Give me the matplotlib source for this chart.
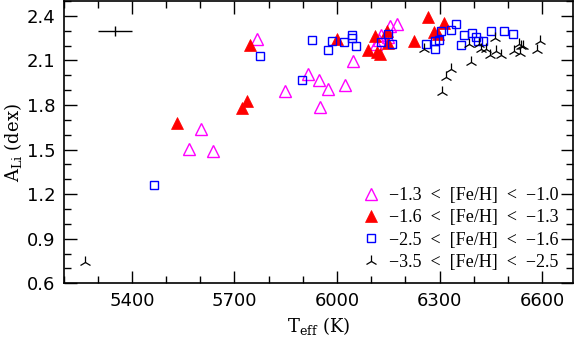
import matplotlib
matplotlib.use("Agg")
import matplotlib.pyplot as plt
from matplotlib.ticker import MultipleLocator

# ---- data ----
teff_mag = [5765, 5915, 5946, 5974, 6022, 5848, 5951, 5602, 5568, 5638,
            6048, 6115, 6130, 6123, 6155, 6177, 6148]
ali_mag = [2.244, 2.006, 1.966, 1.905, 1.936, 1.895, 1.785, 1.635, 1.505, 1.489,
           2.095, 2.21, 2.272, 2.237, 2.333, 2.344, 2.26]

teff_red = [5531, 5722, 5738, 5745, 5999, 6091, 6110, 6118, 6126, 6145,
            6150, 6225, 6266, 6284, 6297, 6313]
ali_red = [1.677, 1.777, 1.826, 2.203, 2.244, 2.172, 2.266, 2.154, 2.143, 2.30,
           2.214, 2.232, 2.393, 2.293, 2.275, 2.35]

teff_blue = [5465, 5776, 5897, 5927, 5973, 5985, 6021, 6045, 6043, 6055,
             6130, 6150, 6160, 6260, 6286, 6288, 6299, 6303, 6334, 6347,
             6362, 6372, 6394, 6406, 6413, 6428, 6452, 6489, 6515]
ali_blue = [1.264, 2.13, 1.97, 2.24, 2.17, 2.23, 2.221, 2.27, 2.248, 2.20,
            2.226, 2.277, 2.21, 2.21, 2.228, 2.18, 2.237, 2.30, 2.306, 2.348,
            2.203, 2.268, 2.288, 2.261, 2.232, 2.228, 2.30, 2.301, 2.279]

teff_blk = [5264, 6254, 6333, 6318, 6306, 6391, 6386, 6415, 6420, 6435,
            6462, 6464, 6449, 6479, 6518, 6532, 6537, 6544, 6535, 6584, 6595]
ali_blk = [0.745, 2.176, 2.045, 1.988, 1.887, 2.09, 2.21, 2.21, 2.18, 2.176,
           2.248, 2.165, 2.136, 2.136, 2.165, 2.21, 2.20, 2.20, 2.147, 2.17, 2.232]

labels = ["\u22121.3  <  [Fe/H]  <  \u22121.0",
          "\u22121.6  <  [Fe/H]  <  \u22121.3",
          "\u22122.5  <  [Fe/H]  <  \u22121.6",
          "\u22123.5  <  [Fe/H]  <  \u22122.5"]

# typical error bar
err_teff, err_ali = 5350, 2.30
err_x, err_y = 50, 0.034

plt.rcParams["font.family"] = "DejaVu Sans"
plt.rcParams["mathtext.fontset"] = "dejavuserif"

fig = plt.figure(figsize=(5.78, 3.40), dpi=100)
ax = fig.add_axes([0.110, 0.167, 0.881, 0.830])

ax.plot(teff_mag, ali_mag, ls="none", marker="^", ms=8.5, mfc="none",
        mec="#ff00ff", mew=1.0, label=labels[0])
ax.plot(teff_red, ali_red, ls="none", marker="^", ms=8.5, mfc="#ff0000",
        mec="#ff0000", mew=0.5, label=labels[1])
ax.plot(teff_blue, ali_blue, ls="none", marker="s", ms=6.2, mfc="none",
        mec="#0000ff", mew=1.0, label=labels[2])
ax.plot(teff_blk, ali_blk, ls="none", marker="2", ms=9, mec="black",
        mew=0.9, label=labels[3])

ax.errorbar([err_teff], [err_ali], xerr=err_x, yerr=err_y, fmt="none",
            ecolor="black", elinewidth=1.0, capsize=0)

ax.set_xlim(5200, 6690)
ax.set_ylim(0.6, 2.5)
ax.xaxis.set_major_locator(MultipleLocator(300))
ax.xaxis.set_minor_locator(MultipleLocator(100))
ax.yaxis.set_major_locator(MultipleLocator(0.3))
ax.yaxis.set_minor_locator(MultipleLocator(0.1))
ax.yaxis.set_major_formatter(matplotlib.ticker.FormatStrFormatter("%.1f"))

ax.tick_params(which="both", direction="in", top=True, right=True,
               labelsize=13, width=1.0)
ax.tick_params(which="major", length=9, pad=6)
ax.tick_params(which="minor", length=5)
for s in ax.spines.values():
    s.set_linewidth(1.2)

ax.set_xlabel(r"T$_{\rm eff}$ (K)", fontsize=13, family="DejaVu Serif")
ax.set_ylabel(r"A$_{\rm Li}$ (dex)", fontsize=13, family="DejaVu Serif",
              labelpad=2)

leg = ax.legend(loc="lower right", bbox_to_anchor=(1.004, -0.015),
                frameon=False, prop={"family": "Liberation Serif", "size": 13},
                handlelength=0.9, handletextpad=0.55, labelspacing=0.3,
                numpoints=1)

fig.savefig("out.png", dpi=100)
